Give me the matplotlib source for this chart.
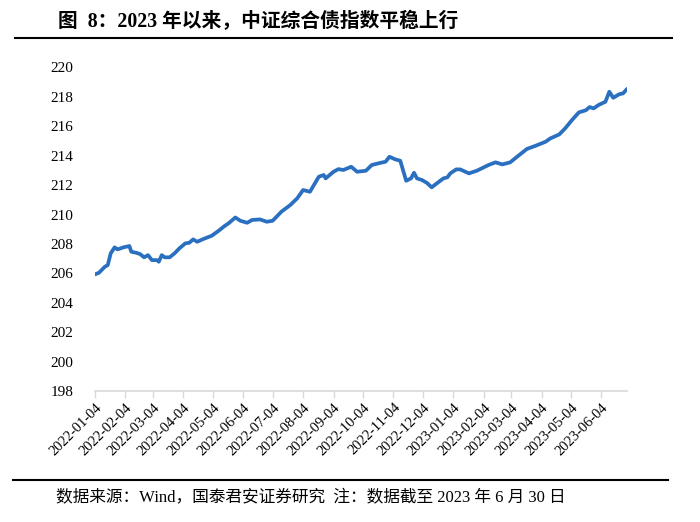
"""
Figure 8: CSI composite bond index since 2022 (recreated chart).
"""

import matplotlib
matplotlib.use("Agg")
import matplotlib.dates as mdates
import matplotlib.pyplot as plt
import pandas as pd

# ---------------------------------------------------------------------------
# Data
# ---------------------------------------------------------------------------

DATES = [
    "2022-01-04", "2022-01-08", "2022-01-14", "2022-01-17", "2022-01-20",
    "2022-01-24", "2022-01-27", "2022-02-02", "2022-02-08", "2022-02-10",
    "2022-02-15", "2022-02-19", "2022-02-23", "2022-02-27", "2022-03-03",
    "2022-03-08", "2022-03-10", "2022-03-13", "2022-03-16", "2022-03-21",
    "2022-03-26", "2022-03-31", "2022-04-06", "2022-04-10", "2022-04-14",
    "2022-04-18", "2022-04-26", "2022-05-03", "2022-05-10", "2022-05-16",
    "2022-05-20", "2022-05-27", "2022-06-01", "2022-06-08", "2022-06-13",
    "2022-06-21", "2022-06-28", "2022-07-04", "2022-07-13", "2022-07-22",
    "2022-07-29", "2022-08-04", "2022-08-11", "2022-08-20", "2022-08-25",
    "2022-08-27", "2022-09-04", "2022-09-09", "2022-09-14", "2022-09-18",
    "2022-09-22", "2022-09-28", "2022-10-07", "2022-10-13", "2022-10-22",
    "2022-10-27", "2022-10-31", "2022-11-06", "2022-11-11", "2022-11-17",
    "2022-11-22", "2022-11-25", "2022-11-28", "2022-12-03", "2022-12-08",
    "2022-12-13", "2022-12-19", "2022-12-25", "2022-12-29", "2023-01-01",
    "2023-01-07", "2023-01-11", "2023-01-20", "2023-01-28", "2023-02-09",
    "2023-02-16", "2023-02-23", "2023-03-03", "2023-03-10", "2023-03-20",
    "2023-03-29", "2023-04-08", "2023-04-13", "2023-04-22", "2023-04-28",
    "2023-05-05", "2023-05-12", "2023-05-19", "2023-05-23", "2023-05-27",
    "2023-06-01", "2023-06-08", "2023-06-12", "2023-06-16", "2023-06-22",
    "2023-06-26", "2023-06-30",
]

INDEX = [
    205.93, 206.04, 206.45, 206.56, 207.36,
    207.77, 207.63, 207.77, 207.86, 207.47,
    207.40, 207.31, 207.09, 207.24, 206.90,
    206.90, 206.79, 207.24, 207.09, 207.09,
    207.36, 207.70, 208.04, 208.08, 208.31,
    208.15, 208.38, 208.56, 208.90, 209.22,
    209.40, 209.80, 209.58, 209.44, 209.63,
    209.67, 209.51, 209.58, 210.20, 210.65,
    211.10, 211.67, 211.55, 212.57, 212.69,
    212.46, 212.91, 213.09, 213.03, 213.14,
    213.25, 212.91, 212.98, 213.37, 213.52,
    213.59, 213.93, 213.75, 213.66, 212.30,
    212.46, 212.84, 212.46, 212.35, 212.16,
    211.85, 212.16, 212.46, 212.53, 212.80,
    213.07, 213.07, 212.80, 212.98, 213.37,
    213.55, 213.41, 213.55, 213.93, 214.46,
    214.68, 214.95, 215.18, 215.45, 215.86,
    216.43, 216.95, 217.09, 217.31, 217.22,
    217.45, 217.67, 218.35, 217.94, 218.18,
    218.24, 218.54,
]

TICK_DATES = [
    "2022-01-04", "2022-02-04", "2022-03-04", "2022-04-04", "2022-05-04",
    "2022-06-04", "2022-07-04", "2022-08-04", "2022-09-04", "2022-10-04",
    "2022-11-04", "2022-12-04", "2023-01-04", "2023-02-04", "2023-03-04",
    "2023-04-04", "2023-05-04", "2023-06-04",
]
Y_TICKS = list(range(198, 221, 2))

TITLE = "图  8：2023 年以来，中证综合债指数平稳上行"
SOURCE = "数据来源：Wind，国泰君安证券研究  注：数据截至 2023 年 6 月 30 日"

# ---------------------------------------------------------------------------
# Style
# ---------------------------------------------------------------------------

LINE = "#2a6fc0"
AXIS = "#d9d9d9"
TEXT = "#000000"
FONTS = ["Liberation Serif", "Noto Sans CJK SC"]

plt.rcParams["font.family"] = FONTS


def main() -> None:
    x = pd.to_datetime(DATES)
    ticks = pd.to_datetime(TICK_DATES)

    fig = plt.figure(figsize=(7.0, 5.22), dpi=100)
    ax = fig.add_axes([95 / 700, 1 - 391 / 522, (627 - 95) / 700, (391 - 67.5) / 522])

    ax.plot(x, INDEX, color=LINE, linewidth=2.7, solid_capstyle="round",
            solid_joinstyle="round")

    ax.set_ylim(198, 220)
    ax.set_xlim(pd.Timestamp("2022-01-04"), pd.Timestamp("2023-06-30"))
    ax.set_yticks(Y_TICKS)
    ax.set_yticklabels([str(v) for v in Y_TICKS], fontsize=11, color=TEXT)
    ax.tick_params(axis="y", left=False, pad=12)

    ax.set_xticks(ticks)
    ax.xaxis.set_major_formatter(mdates.DateFormatter("%Y-%m-%d"))
    ax.tick_params(axis="x", direction="out", length=5, width=1, color=AXIS,
                   pad=2, labelsize=10.5, labelcolor=TEXT)
    for lbl in ax.get_xticklabels():
        lbl.set_rotation(45)
        lbl.set_ha("right")
        lbl.set_rotation_mode("anchor")

    for side in ("top", "right", "left"):
        ax.spines[side].set_visible(False)
    ax.spines["bottom"].set_color(AXIS)
    ax.spines["bottom"].set_linewidth(1.2)

    # title, rules and source note
    fig.text(58 / 700, 1 - 22 / 522, TITLE, ha="left", va="center",
             fontsize=14.2, fontweight="bold", color=TEXT, family=FONTS)
    fig.add_artist(plt.Line2D([15 / 700, 672 / 700], [1 - 38 / 522, 1 - 38 / 522],
                              color=TEXT, linewidth=1.5))
    fig.add_artist(plt.Line2D([13 / 700, 668 / 700], [1 - 480 / 522, 1 - 480 / 522],
                              color=TEXT, linewidth=1.5))
    fig.text(56 / 700, 1 - 497 / 522, SOURCE, ha="left", va="center",
             fontsize=12, color=TEXT, family=FONTS)

    fig.savefig("out.png", dpi=100, facecolor="white")
    plt.close(fig)


if __name__ == "__main__":
    main()
